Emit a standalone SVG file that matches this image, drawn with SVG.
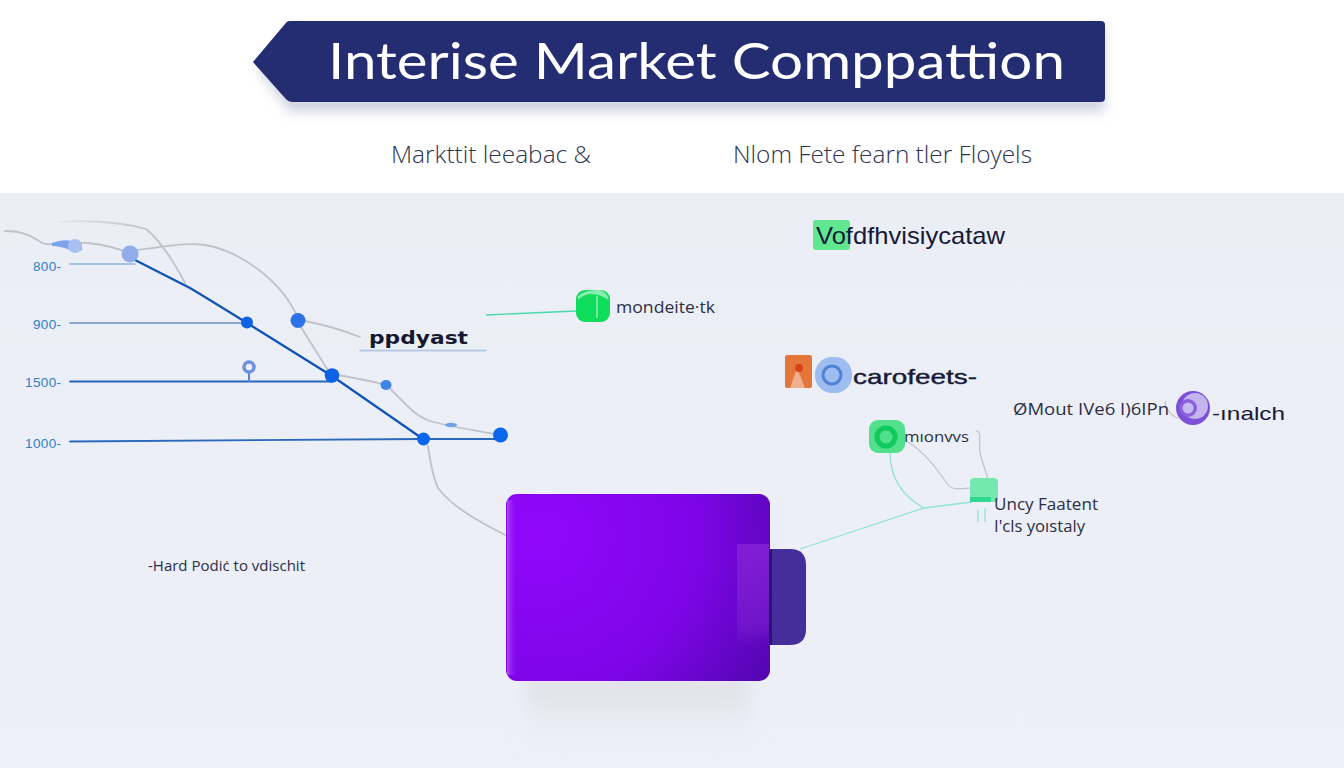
<svg xmlns="http://www.w3.org/2000/svg" width="1344" height="768" viewBox="0 0 1344 768">
<style>
.gray{fill:none;stroke:#c0c2ca;stroke-width:1.800;stroke-linecap:round}
.axis{fill:none;stroke-linecap:round}
.teal{fill:none;stroke:#8fe3d6;stroke-width:1.300}
.tick{font-family:"Liberation Sans",Arial,sans-serif;font-size:13.500px;fill:#2f7fc4}
.sub{font-family:"Open Sans","Liberation Sans",sans-serif;font-size:24px;font-weight:300;fill:#2f3450}
.lab{font-family:"Liberation Sans",Arial,sans-serif;fill:#171a38}
.thin{font-family:"Open Sans","Liberation Sans",sans-serif;fill:#2b2e44}
</style>
<defs>
<linearGradient id="bg" x1="0" y1="0" x2="0" y2="1"><stop offset="0" stop-color="#ebeef5"/><stop offset="1" stop-color="#edf0f8"/></linearGradient>
<radialGradient id="purple" gradientUnits="userSpaceOnUse" cx="540" cy="535" r="310"><stop offset="0" stop-color="#9008fb"/><stop offset=".5" stop-color="#7e05e8"/><stop offset="1" stop-color="#42069c"/></radialGradient>
<linearGradient id="strip" x1="0" y1="0" x2="0" y2="1"><stop offset="0" stop-color="#8a25d8" stop-opacity=".75"/><stop offset=".8" stop-color="#7b1fd0" stop-opacity=".6"/><stop offset="1" stop-color="#7b1fd0" stop-opacity="0"/></linearGradient>
<linearGradient id="sh" x1="0" y1="0" x2="0" y2="1"><stop offset="0" stop-color="#dcdde1"/><stop offset="1" stop-color="#ebeef6" stop-opacity="0"/></linearGradient>
<linearGradient id="edge" x1="0" y1="0" x2="1" y2="0"><stop offset="0" stop-color="#a94cf0"/><stop offset="1" stop-color="#9008fb" stop-opacity="0"/></linearGradient>
<linearGradient id="fade" gradientUnits="userSpaceOnUse" x1="60" y1="0" x2="150" y2="0"><stop offset="0" stop-color="#c0c2ca" stop-opacity=".15"/><stop offset="1" stop-color="#c0c2ca"/></linearGradient>
<filter id="blur" x="-20%" y="-40%" width="140%" height="200%"><feGaussianBlur stdDeviation="6"/></filter>
<filter id="blur2" x="-20%" y="-20%" width="140%" height="140%"><feGaussianBlur stdDeviation="9"/></filter>
</defs>
<rect width="1344" height="768" fill="#fff"/>
<rect y="193" width="1344" height="575" fill="url(#bg)"/>

<g id="connectors">
<path class="gray" d="M5 231C22 231 32 236 42 243C50 247 70 241 88 243C105 245 118 248 128 253"/>
<path class="gray" style="stroke:url(#fade)" d="M60 222C90 220 120 222 146 229C162 242 175 264 185 283"/>
<path class="gray" d="M137 250C165 247 185 242 205 245C240 251 280 280 296 314"/>
<path class="gray" d="M305 321C325 325 343 330 360 337"/>
<path class="gray" d="M301 327L329 372"/>
<path class="gray" d="M338 375C355 378 372 381 386 385C400 397 412 415 430 421C450 427 475 430 495 434"/>
<path class="gray" d="M428 446C430 460 432 475 438 488C452 507 480 522 505 535"/>
<path d="M70 264H135" class="axis" stroke="#8fb4e2" stroke-width="1.600"/>
<path d="M70 323H247" class="axis" stroke="#8aa8d6" stroke-width="1.800"/>
<path d="M70 381.500H332" class="axis" stroke="#2566b9" stroke-width="1.800"/>
<path d="M70 441.500L423 439H500" class="axis" stroke="#2a68bc" stroke-width="1.800"/>
<path d="M249 381V372" class="axis" stroke="#4d89db" stroke-width="2"/>
<path d="M135 260L190 288Q210 300 247 323L332 376L423 439" fill="none" stroke="#0f52b8" stroke-width="2.200"/>
<path d="M360 350.500H486" class="axis" stroke="#b9cbe4" stroke-width="1.800"/>
<path class="teal" d="M486 315L576 311" style="stroke:#48d9ad"/>
<path class="teal" d="M800 549L924 508L972 502"/>
<path class="teal" d="M890 452C890 475 900 495 924 508"/>
<path class="gray" style="stroke-width:1.200" d="M908 442C925 452 938 470 948 485C952 490 960 489 970 488"/>
<path class="gray" style="stroke-width:1.200" d="M976 431C984 432 976 445 982 460C985 470 987 475 988 480"/>
<path class="teal" d="M978 510V522M985 508V522"/>
<path class="gray" style="stroke-width:1.200" d="M1166 402C1163 401 1168 415 1178 418"/>
</g>

<g id="title">
<path d="M290 29H1101Q1105 29 1105 33V108Q1105 112 1100 112H290L258 70Z" fill="#8f96b8" opacity=".4" filter="url(#blur)"/>
<path d="M289 21H1101Q1105 21 1105 25V98Q1105 102 1101 102H293Q288 102 285 98L253 62L285 24Q287 21 289 21Z" fill="#242d72"/>
<text x="328" y="79" font-family="Lato,'Liberation Sans',sans-serif" font-size="50" font-weight="400" fill="#fff" textLength="737" lengthAdjust="spacingAndGlyphs">Interise Market Comppattion</text>
</g>
<g id="subtitle-left"><text class="sub" x="391" y="163" textLength="200" lengthAdjust="spacingAndGlyphs">Markttit leeabac &amp;</text></g>
<g id="subtitle-right"><text class="sub" x="733" y="163" textLength="299" lengthAdjust="spacingAndGlyphs">Nlom Fete fearn tler Floyels</text></g>

<g id="axis-labels">
<text class="tick" x="33" y="271" textLength="28">800-</text>
<text class="tick" x="33" y="329" textLength="28">900-</text>
<text class="tick" x="25" y="387" textLength="36">1500-</text>
<text class="tick" x="25" y="448" textLength="36">1000-</text>
</g>

<g id="chart-points">
<path d="M52 243Q62 239 72 241L82 244V250Q76 253 70 250Q60 246 52 246Z" fill="#7fa2ec"/>
<circle cx="75" cy="246" r="7" fill="#a9c1f1"/>
<circle cx="130" cy="254" r="8.500" fill="#8fade9"/>
<circle cx="247" cy="322.500" r="6" fill="#0f62e6"/>
<circle cx="298" cy="320.500" r="7.500" fill="#2e72e8"/>
<circle cx="249" cy="367" r="5" fill="none" stroke="#6f90e2" stroke-width="3.500"/>
<circle cx="332" cy="375.500" r="7.300" fill="#0f62e6"/>
<ellipse cx="386" cy="385" rx="5.500" ry="5" fill="#3f86e4"/>
<ellipse cx="451" cy="425" rx="6" ry="2.200" fill="#6ea1e6"/>
<circle cx="423.500" cy="439" r="6.500" fill="#0a66ea"/>
<circle cx="500.500" cy="435" r="7.500" fill="#0a66ea"/>
</g>

<g id="node-forecast"><text x="369" y="344" font-family="'DejaVu Sans',sans-serif" font-size="17" font-weight="700" fill="#15182f" textLength="99" lengthAdjust="spacingAndGlyphs">ppdyast</text></g>

<g id="node-green-top">
<rect x="813" y="220" width="37" height="30" rx="3" fill="#5fe88f"/>
<text class="lab" x="816" y="244" font-size="24" textLength="189" lengthAdjust="spacingAndGlyphs">Vofdfhvisiycataw</text>
</g>

<g id="node-green-mid">
<rect x="576" y="290" width="34" height="32" rx="9" fill="#0fdc5a"/>
<path d="M578 296Q586 289 600 290Q607 292 609 300Q600 294 590 294Q583 295 578 300Z" fill="#86ecb0"/>
<path d="M597 296V318" stroke="#93eebb" stroke-width="1.500"/>
<text class="thin" x="616" y="313" font-size="16" textLength="99" lengthAdjust="spacingAndGlyphs">mondeite·tk</text>
</g>

<g id="node-carotects">
<rect x="785" y="355" width="27" height="33" rx="2" fill="#e5763a"/>
<path d="M790 388L797 368L805 388Z" fill="#f0b08f"/>
<circle cx="799" cy="368" r="4" fill="#d8401f"/>
<rect x="815" y="357" width="37" height="36" rx="17" fill="#9dbcf0"/>
<circle cx="832" cy="375" r="9" fill="none" stroke="#4f82d6" stroke-width="3"/>
<text class="lab" x="853" y="384" font-size="21" textLength="124" lengthAdjust="spacingAndGlyphs" style="stroke:#171a38;stroke-width:.4">carofeets-</text>
</g>

<g id="node-purple-right">
<text class="thin" x="1013" y="415" font-size="17" textLength="156" lengthAdjust="spacingAndGlyphs">ØMout IVe6 I)6IPn</text>
<circle cx="1193" cy="408" r="17" fill="#7c4fd8"/>
<circle cx="1195" cy="406" r="13" fill="#c4b4f0"/>
<circle cx="1188" cy="408" r="9" fill="#8c5fe0"/>
<circle cx="1188" cy="408" r="5.500" fill="#c8b8ef"/>
<text class="lab" x="1212" y="420" font-size="19" textLength="73" lengthAdjust="spacingAndGlyphs">-ınalch</text>
</g>

<g id="node-green-low">
<rect x="869" y="420" width="36" height="33" rx="9" fill="#52e08c"/>
<circle cx="886" cy="437" r="9" fill="none" stroke="#12c95e" stroke-width="5"/>
<text class="thin" x="904" y="442" font-size="15" textLength="65" lengthAdjust="spacingAndGlyphs">mıonvvs</text>
</g>

<g id="node-green-small">
<rect x="970" y="478" width="28" height="24" rx="4" fill="#74e8ae"/>
<rect x="970" y="497" width="21" height="5" fill="#2fd890"/>
<text class="thin" x="994" y="510" font-size="15.500" textLength="104" lengthAdjust="spacingAndGlyphs">Uncy Faatent</text>
<text class="thin" x="994" y="532" font-size="15.500" textLength="91" lengthAdjust="spacingAndGlyphs">I'cls yoıstaly</text>
</g>

<g id="node-hard"><text class="thin" x="148" y="571" font-size="15" textLength="157" lengthAdjust="spacingAndGlyphs">-Hard Podiċ to vdischit</text></g>

<g id="purple-block">
<path d="M524 678H750L752 750Q640 760 530 750Z" fill="url(#sh)" filter="url(#blur2)"/>
<path d="M770 549H790Q806 549 806 565V629Q806 645 790 645H770Z" fill="#452e9c"/>
<rect x="506" y="494" width="264" height="187" rx="11" fill="url(#purple)"/>
<rect x="507" y="500" width="10" height="175" fill="url(#edge)"/>
<rect x="737" y="544" width="32" height="102" fill="url(#strip)"/>
<rect x="769" y="549" width="3" height="96" fill="#2a1470"/>
</g>
</svg>
